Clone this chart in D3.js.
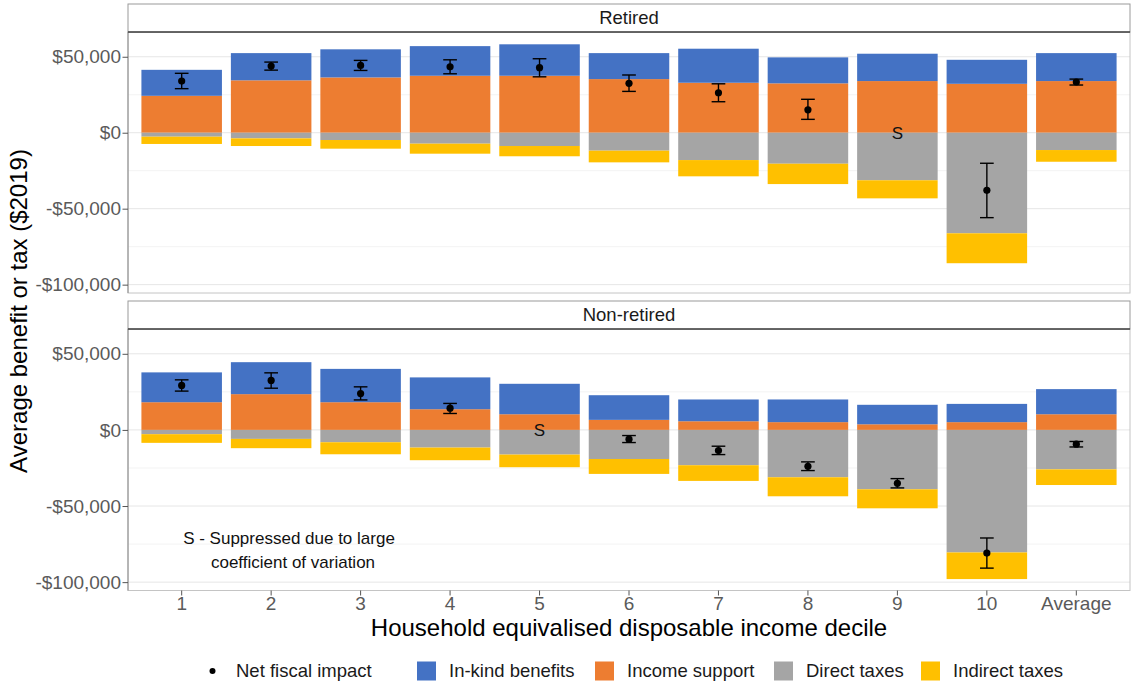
<!DOCTYPE html>
<html>
<head>
<meta charset="utf-8">
<script src="https://cdn.jsdelivr.net/npm/d3@7"></script>
<style>
  html, body { margin: 0; padding: 0; background: #fff; }
  svg { display: block; font-family: "Liberation Sans", Arial, sans-serif; }
</style>
</head>
<body>
<svg id="chart" width="1131" height="684"></svg>
<script>
// ---------------- DATA ----------------
const categories = ["1", "2", "3", "4", "5", "6", "7", "8", "9", "10", "Average"];
const panelNames = ["Retired", "Non-retired"];
const seriesKeys = ["Income support", "In-kind benefits", "Direct taxes", "Indirect taxes"];
const seriesColors = ["#ED7D31", "#4472C4", "#A5A5A5", "#FFC000"];
const legendLabels = ["Net fiscal impact", "In-kind benefits", "Income support", "Direct taxes", "Indirect taxes"];

// Retired
const retiredIncomeSupport = [24300, 34500, 36400, 37500, 37500, 35300, 32900, 32500, 34000, 32200, 34000];
const retiredInKind        = [17100, 17900, 18500, 19500, 20700, 17100, 22400, 17100, 18000, 15800, 18400];
const retiredDirect        = [-2600, -3700, -4800, -7200, -8750, -11800, -18000, -20400, -31300, -66200, -11400];
const retiredIndirect      = [-4800, -5050, -5700, -6600, -6750, -7700, -10700, -13400, -11900, -19700, -7700];
const retiredNet           = [34000, 43900, 44300, 43400, 42800, 32500, 26300, 15100, null, -37900, 33400];
const retiredLow           = [29000, 41200, 41000, 38800, 36800, 27200, 20400, 8800, null, -55900, 31400];
const retiredHigh          = [39100, 46500, 47600, 48000, 48700, 38000, 32200, 22000, null, -20100, 35300];

// Non-retired
const nonRetiredIncomeSupport = [18200, 23500, 18200, 13600, 10300, 6600, 5700, 5100, 3700, 5100, 10300];
const nonRetiredInKind        = [19600, 21000, 21900, 20900, 20000, 16200, 14300, 14900, 12800, 12000, 16500];
const nonRetiredDirect        = [-2800, -5900, -8100, -11600, -16200, -19100, -23200, -31100, -39000, -80500, -25900];
const nonRetiredIndirect      = [-5700, -6100, -7900, -8300, -8300, -9800, -10300, -12500, -12500, -17500, -10300];
const nonRetiredNet           = [29200, 32500, 23900, 14300, null, -6100, -13600, -23900, -35100, -80900, -9400];
const nonRetiredLow           = [25500, 27400, 19700, 10800, null, -8300, -16200, -26700, -38100, -90800, -11200];
const nonRetiredHigh          = [32900, 37500, 28300, 17400, null, -3700, -10700, -21000, -32000, -71000, -7600];

const yMajorTicks = [50000, 0, -50000, -100000];
const yMinorTicks = [25000, -25000, -75000];
const yDomain = [-105500, 66300];
const suppressedLabel = "S";
const noteLines = ["S - Suppressed due to large", "coefficient of variation"];
const xTitle = "Household equivalised disposable income decile";
const yTitle = "Average benefit or tax ($2019)";

// ---------------- BUILD ----------------
function buildRows(inc, ink, dir, ind, net, lo, hi) {
  return categories.map((c, i) => ({
    cat: c,
    "Income support": inc[i],
    "In-kind benefits": ink[i],
    "Direct taxes": dir[i],
    "Indirect taxes": ind[i],
    net: net[i], lo: lo[i], hi: hi[i]
  }));
}
const panelData = [
  buildRows(retiredIncomeSupport, retiredInKind, retiredDirect, retiredIndirect, retiredNet, retiredLow, retiredHigh),
  buildRows(nonRetiredIncomeSupport, nonRetiredInKind, nonRetiredDirect, nonRetiredIndirect, nonRetiredNet, nonRetiredLow, nonRetiredHigh)
];

const svg = d3.select("#chart");
const left = 128, right = 1130;
const panelsGeom = [
  { stripTop: 4, top: 32, bottom: 293 },
  { stripTop: 301, top: 329, bottom: 590.5 }
];

const x = d3.scaleBand().domain(categories).range([left, right])
  .paddingInner(0.1).paddingOuter(0.15).align(0.5);

const color = d3.scaleOrdinal().domain(seriesKeys).range(seriesColors);
const stack = d3.stack().keys(seriesKeys).offset(d3.stackOffsetDiverging);

const fmt = d3.format(",");
const fmtDollar = v => v < 0 ? "-$" + fmt(-v) : "$" + fmt(v);

panelData.forEach((rows, pi) => {
  const g = panelsGeom[pi];
  const y = d3.scaleLinear().domain(yDomain).range([g.bottom, g.top]);
  const pg = svg.append("g");

  pg.append("rect").attr("x", left).attr("y", g.top).attr("width", right - left)
    .attr("height", g.bottom - g.top).attr("fill", "#fff");

  // grid
  pg.selectAll(".minor").data(yMinorTicks).join("line")
    .attr("x1", left).attr("x2", right)
    .attr("y1", d => y(d)).attr("y2", d => y(d))
    .attr("stroke", "#f3f3f3").attr("stroke-width", 1);
  pg.selectAll(".major").data(yMajorTicks).join("line")
    .attr("x1", left).attr("x2", right)
    .attr("y1", d => y(d)).attr("y2", d => y(d))
    .attr("stroke", "#e6e6e6").attr("stroke-width", 1);

  // stacked bars
  const series = stack(rows);
  pg.selectAll(".series").data(series).join("g")
    .attr("fill", d => color(d.key))
    .selectAll("rect").data(d => d).join("rect")
    .attr("x", d => x(d.data.cat))
    .attr("width", x.bandwidth())
    .attr("y", d => y(Math.max(d[0], d[1])))
    .attr("height", d => Math.abs(y(d[0]) - y(d[1])));

  // error bars
  const withNet = rows.filter(r => r.net !== null);
  const capW = x.bandwidth() * 0.17;
  const cx = d => x(d.cat) + x.bandwidth() / 2;
  const eb = pg.append("g").attr("stroke", "#000").attr("stroke-width", 1.4);
  eb.selectAll(".v").data(withNet).join("line")
    .attr("x1", cx).attr("x2", cx)
    .attr("y1", d => y(d.lo)).attr("y2", d => y(d.hi));
  eb.selectAll(".t").data(withNet).join("line")
    .attr("x1", d => cx(d) - capW / 2).attr("x2", d => cx(d) + capW / 2)
    .attr("y1", d => y(d.hi)).attr("y2", d => y(d.hi));
  eb.selectAll(".b").data(withNet).join("line")
    .attr("x1", d => cx(d) - capW / 2).attr("x2", d => cx(d) + capW / 2)
    .attr("y1", d => y(d.lo)).attr("y2", d => y(d.lo));
  pg.selectAll(".pt").data(withNet).join("circle")
    .attr("cx", cx).attr("cy", d => y(d.net))
    .attr("r", 3.6).attr("fill", "#000");

  // suppressed labels
  pg.selectAll(".s").data(rows.filter(r => r.net === null)).join("text")
    .attr("x", cx).attr("y", y(0))
    .attr("dy", "0.36em").attr("text-anchor", "middle")
    .attr("font-size", 17).attr("fill", "#111").text(suppressedLabel);

  // panel border
  pg.append("rect").attr("x", left).attr("y", g.top).attr("width", right - left)
    .attr("height", g.bottom - g.top).attr("fill", "none")
    .attr("stroke", "#c4c4c4").attr("stroke-width", 1);
  pg.append("line").attr("x1", left).attr("x2", left).attr("y1", g.top).attr("y2", g.bottom)
    .attr("stroke", "#8a8a8a").attr("stroke-width", 1);

  // strip
  pg.append("rect").attr("x", left).attr("y", g.stripTop).attr("width", right - left)
    .attr("height", g.top - g.stripTop).attr("fill", "#fff")
    .attr("stroke", "#9a9a9a").attr("stroke-width", 1);
  pg.append("line").attr("x1", left).attr("x2", right).attr("y1", g.top).attr("y2", g.top)
    .attr("stroke", "#444").attr("stroke-width", 1.3);
  pg.append("text").attr("x", (left + right) / 2).attr("y", g.stripTop + 20)
    .attr("text-anchor", "middle").attr("font-size", 18.5).attr("fill", "#1a1a1a")
    .text(panelNames[pi]);

  // y axis
  const yAxis = d3.axisLeft(y).tickValues(yMajorTicks).tickFormat(fmtDollar).tickSize(5.5).tickPadding(1.5);
  const ya = pg.append("g").attr("transform", `translate(${left},0)`).call(yAxis);
  ya.select(".domain").remove();
  ya.selectAll(".tick line").attr("stroke", "#555");
  ya.selectAll(".tick text").attr("font-size", 19).attr("fill", "#5a5a5a")
    .attr("font-family", "'Liberation Sans', Arial, sans-serif");

  if (pi === 1) {
    const xAxis = d3.axisBottom(x).tickSize(5).tickPadding(1);
    const xa = pg.append("g").attr("transform", `translate(0,${g.bottom})`).call(xAxis);
    xa.select(".domain").remove();
    xa.selectAll(".tick line").attr("stroke", "#555");
    xa.selectAll(".tick text").attr("font-size", 19).attr("fill", "#5a5a5a")
      .attr("font-family", "'Liberation Sans', Arial, sans-serif");

    pg.append("text").attr("x", 289).attr("y", 544).attr("text-anchor", "middle")
      .attr("font-size", 17).attr("fill", "#111").text(noteLines[0]);
    pg.append("text").attr("x", 293).attr("y", 568).attr("text-anchor", "middle")
      .attr("font-size", 17).attr("fill", "#111").text(noteLines[1]);
  }
});

// axis titles
svg.append("text").attr("x", 629).attr("y", 636).attr("text-anchor", "middle")
  .attr("font-size", 24).attr("fill", "#000").text(xTitle);
svg.append("text").attr("transform", "translate(26.5,311) rotate(-90)")
  .attr("text-anchor", "middle").attr("font-size", 24).attr("fill", "#000").text(yTitle);

// legend
const legendY = 671;
const legendItems = [
  { label: legendLabels[0], type: "dot", kx: 203, tx: 236 },
  { label: legendLabels[1], type: "box", key: "In-kind benefits", kx: 417, tx: 449 },
  { label: legendLabels[2], type: "box", key: "Income support", kx: 595, tx: 627 },
  { label: legendLabels[3], type: "box", key: "Direct taxes", kx: 774, tx: 806 },
  { label: legendLabels[4], type: "box", key: "Indirect taxes", kx: 921, tx: 953 }
];
const lg = svg.append("g");
legendItems.forEach(it => {
  if (it.type === "dot") {
    lg.append("circle").attr("cx", it.kx + 9.5).attr("cy", legendY).attr("r", 3).attr("fill", "#000");
  } else {
    lg.append("rect").attr("x", it.kx).attr("y", legendY - 9.5).attr("width", 19).attr("height", 19)
      .attr("fill", color(it.key));
  }
  lg.append("text").attr("x", it.tx).attr("y", legendY).attr("dy", "0.35em")
    .attr("font-size", 18.5).attr("fill", "#1a1a1a").text(it.label);
});
</script>
</body>
</html>
